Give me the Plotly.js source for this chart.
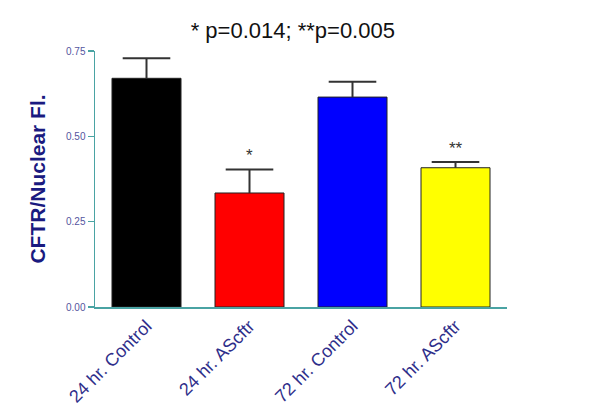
<!DOCTYPE html>
<html>
<head>
<meta charset="utf-8">
<script src="https://cdn.plot.ly/plotly-3.0.1.min.js"></script>
<style>html,body{margin:0;padding:0;background:#fff;}#chart{width:600px;height:409px;}</style>
</head>
<body>
<div id="chart"></div>
<script>
const categories = ["24 hr. Control", "24 hr. AScftr", "72 hr. Control", "72 hr. AScftr"];
const values = [0.670, 0.334, 0.615, 0.408];
const errors = [0.059, 0.069, 0.045, 0.017];
const colors = ["#000000", "#ff0000", "#0000ff", "#ffff00"];
const sigLabels = ["", "*", "", "**"];
const yTicks = [0, 0.25, 0.5, 0.75];
const yTickText = ["0.00", "0.25", "0.50", "0.75"];

const bars = {
  type: "bar",
  x: categories,
  y: values,
  width: 0.67,
  marker: {color: colors, line: {color: "#222222", width: 1}},
  error_y: {type: "data", symmetric: false, array: errors, arrayminus: errors.map(() => 0),
            visible: true, color: "#333333", thickness: 2, width: 0},
  hoverinfo: "none"
};

// error-bar caps at the top of each whisker
const caps = {
  type: "scatter",
  mode: "markers",
  x: categories,
  y: values.map((v, i) => v + errors[i]),
  marker: {symbol: "line-ew-open", size: 34, color: "#333333", line: {color: "#333333", width: 2}},
  hoverinfo: "none",
  cliponaxis: false
};

const annotations = categories.map((c, i) => ({
  x: c, y: values[i] + errors[i], xref: "x", yref: "y",
  text: sigLabels[i], showarrow: false, yanchor: "bottom", yshift: 2,
  font: {family: "Liberation Sans, Arial, sans-serif", size: 17, color: "#333333"}
})).filter(a => a.text);

const layout = {
  width: 600, height: 409,
  margin: {l: 95, r: 93, t: 51, b: 102},
  paper_bgcolor: "#ffffff", plot_bgcolor: "#ffffff",
  showlegend: false,
  title: {
    text: "* p=0.014; **p=0.005",
    x: 0.488, xanchor: "center", xref: "container",
    y: 0.925, yanchor: "middle", yref: "container",
    font: {family: "Liberation Sans, Arial, sans-serif", size: 22, color: "#111111"}
  },
  xaxis: {
    range: [-0.5, 3.5],
    showline: true, linecolor: "#4aa3a3", linewidth: 1.5,
    ticks: "", showgrid: false, zeroline: false,
    tickangle: -45,
    tickfont: {family: "Liberation Sans, Arial, sans-serif", size: 18, color: "#2e2e8a"}
  },
  yaxis: {
    range: [0, 0.75],
    tickvals: yTicks, ticktext: yTickText,
    showline: true, linecolor: "#4aa3a3", linewidth: 1.5,
    ticks: "outside", ticklen: 6, tickcolor: "#4aa3a3", tickwidth: 1.5,
    showgrid: false, zeroline: false,
    tickfont: {family: "Liberation Sans, Arial, sans-serif", size: 10, color: "#5555a0"},
    title: {
      text: "<b>CFTR/Nuclear Fl.</b>",
      standoff: 14,
      font: {family: "Liberation Sans, Arial, sans-serif", size: 21, color: "#1a1a80"}
    }
  },
  annotations: annotations
};

Plotly.newPlot("chart", [bars, caps], layout, {displayModeBar: false, staticPlot: true});
</script>
</body>
</html>
